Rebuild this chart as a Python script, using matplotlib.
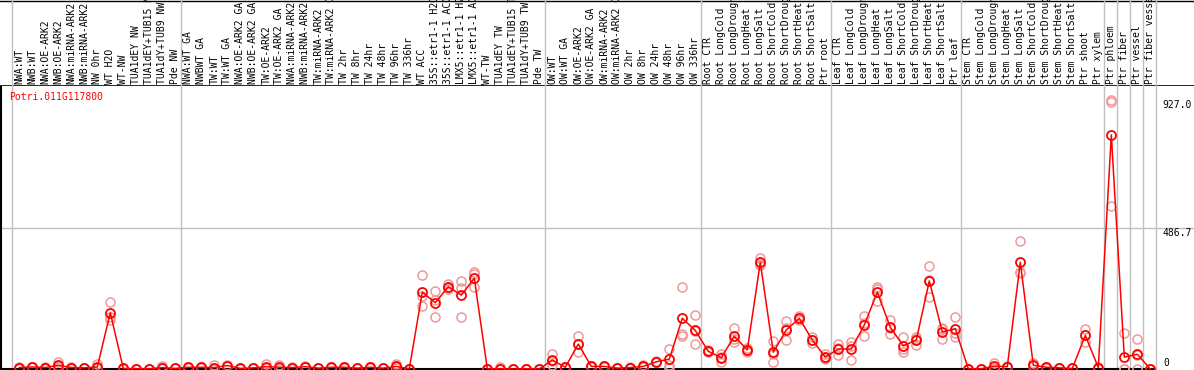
import numpy as np
import matplotlib
matplotlib.use("Agg")
import matplotlib.pyplot as plt

# ------------------ DATOS ------------------

gene_id = "Potri.011G117800"

samples = [
    "NWA:WT", "NWB:WT", "NWA:OE-ARK2", "NWB:OE-ARK2", "NWA:miRNA-ARK2", "NWB:miRNA-ARK2",
    "NW 0hr", "WT H2O", "WT-NW", "TUA1dEY NW", "TUA1dEY+TUB15 NW", "TUA1dY+TUB9 NW", "Pde NW",
    "NWA:WT GA", "NWBWT GA", "TW:WT", "TW:WT GA", "NWA:OE-ARK2 GA", "NWB:OE-ARK2 GA",
    "TW:OE-ARK2", "TW:OE-ARK2 GA", "NWA:miRNA-ARK2 GA", "NWB:miRNA-ARK2 GA", "TW:miRNA-ARK2",
    "TW:miRNA-ARK2 GA", "TW 2hr", "TW 8hr", "TW 24hr", "TW 48hr", "TW 96hr", "TW 336hr",
    "WT ACC", "35S::etr1-1 H2O", "35S::etr1-1 ACC", "LMX5::etr1-1 H2O", "LMX5::etr1-1 ACC",
    "WT-TW", "TUA1dEY TW", "TUA1dEY+TUB15 TW", "TUA1dY+TUB9 TW", "Pde TW",
    "OW:WT", "OW:WT GA", "OW:OE-ARK2", "OW:OE-ARK2 GA", "OW:miRNA-ARK2", "OW:miRNA-ARK2 GA",
    "OW 2hr", "OW 8hr", "OW 24hr", "OW 48hr", "OW 96hr", "OW 336hr",
    "Root CTR", "Root LongCold", "Root LongDrought", "Root LongHeat", "Root LongSalt",
    "Root ShortCold", "Root ShortDrought", "Root ShortHeat", "Root ShortSalt", "Ptr root",
    "Leaf CTR", "Leaf LongCold", "Leaf LongDrought", "Leaf LongHeat", "Leaf LongSalt",
    "Leaf ShortCold", "Leaf ShortDrought", "Leaf ShortHeat", "Leaf ShortSalt", "Ptr leaf",
    "Stem CTR", "Stem LongCold", "Stem LongDrought", "Stem LongHeat", "Stem LongSalt",
    "Stem ShortCold", "Stem ShortDrought", "Stem ShortHeat", "Stem ShortSalt",
    "Ptr shoot", "Ptr xylem", "Ptr phloem", "Ptr fiber", "Ptr vessel", "Ptr fiber vessel",
]

# indice del primer elemento de cada grupo (lineas grises)
group_starts = [0, 13, 41, 53, 63, 73, 84, 85, 86, 87, 88]

means = [
    5, 7, 5, 13, 5, 4, 7, 194, 2, 1, 1, 5, 2,
    6, 6, 5, 12, 2, 4, 8, 6, 5, 8, 3, 6, 6, 3, 6, 3, 9, 1,
    265, 229, 284, 255, 313, 1, 1, 0, 1, 0,
    31, 6, 86, 9, 9, 3, 5, 9, 25, 34, 175, 133,
    61, 39, 113, 66, 368, 58, 135, 175, 100, 41,
    69, 69, 152, 265, 144, 80, 100, 304, 128, 139,
    1, 1, 10, 8, 368, 13, 6, 4, 2, 116, 5, 808, 41, 51, 0,
]

replicates = [
    [5, 4, 6], [7, 6, 8], [5, 4, 6], [23, 10, 6], [5, 4, 6], [4, 3, 5], [17, 2, 2],
    [231, 180, 170], [2, 1, 3], [1, 1, 1], [1, 1, 1], [10, 3, 2], [2, 2, 2],
    [6, 5, 7], [6, 5, 7], [13, 2, 0], [12, 11, 13], [2, 1, 3], [4, 3, 5], [17, 5, 2],
    [15, 2, 1], [5, 4, 6], [8, 7, 9], [3, 2, 4], [6, 5, 7], [6, 5, 7], [3, 2, 4],
    [6, 5, 7], [3, 2, 4], [17, 6, 4], [1, 1, 1],
    [324, 219, 252], [269, 238, 178], [293, 284, 275], [303, 279, 178], [334, 327, 282],
    [1, 1, 1], [8, 0, 0], [0, 0, 0], [1, 1, 1], [0, 0, 0],
    [51, 14, 28], [6, 5, 7], [113, 59, 86], [9, 8, 10], [9, 8, 10], [3, 2, 4],
    [5, 4, 6], [13, 7, 7], [25, 24, 26], [68, 13, 2], [282, 122, 114], [185, 85, 130],
    [61, 58, 64], [51, 25, 41], [140, 94, 105], [74, 60, 64], [382, 360, 362],
    [98, 24, 52], [166, 100, 140], [183, 170, 172], [109, 91, 100], [52, 35, 38],
    [85, 48, 72], [94, 31, 80], [182, 115, 158], [284, 235, 276], [169, 121, 142],
    [112, 58, 70], [112, 83, 104], [356, 250, 306], [143, 102, 138], [181, 112, 124],
    [1, 1, 1], [1, 0, 1], [22, 4, 4], [8, 7, 9], [441, 336, 332], [21, 9, 9],
    [6, 5, 7], [4, 3, 5], [2, 2, 2], [138, 94, 116], [8, 3, 4], [927, 923, 563],
    [123, 0, 0], [104, 0, 49], [0, 0, 0],
]

# ------------------ FIGURA ------------------

W, H = 1194, 370
HEAD = 86
PX0, STEP = 19.3, 13.0          # centro de la primera columna y paso, en pixeles
FONT = "DejaVu Sans Mono"

x = np.arange(len(samples))
xlim = (-PX0 / STEP, (W - PX0) / STEP)

ymax = 973.4
ppu = 141.0 / (ymax / 2)        # pixeles por unidad
ylim = (-1.0 / ppu, ymax + (H - HEAD - 1 - ymax * ppu) / ppu)

fig = plt.figure(figsize=(W / 100, H / 100), dpi=100)
ax_h = fig.add_axes([0, (H - HEAD) / H, 1, HEAD / H])
ax = fig.add_axes([0, 0, 1, (H - HEAD) / H])

for a in (ax_h, ax):
    a.set_xlim(*xlim)
    a.set_xticks([])
    a.set_yticks([])
    for s in a.spines.values():
        s.set_visible(False)

# cabecera con nombres de muestra
ax_h.set_ylim(0, HEAD)
for i, lab in enumerate(samples):
    ax_h.text(i, 2.5, lab, rotation=90, ha="center", va="bottom",
              fontsize=7, family=FONT, clip_on=True)
right_edge = group_starts[-1] - 0.6
ax_h.axhline(HEAD - 0.5, color="black", lw=1)
ax_h.axhline(0.5, color="black", lw=1.2)
for g in group_starts:
    ax_h.axvline(g - 0.6, color="#c0c0c0", lw=1)

# zona de datos
ax.set_ylim(*ylim)
for g in group_starts:
    ax.axvline(g - 0.6, color="#c0c0c0", lw=1)
ax.axhline(ymax / 2, color="#c0c0c0", lw=1)
ax.axvline(xlim[0] + 0.04, color="black", lw=1.5)
ax.plot([xlim[0], right_edge], [0, 0], color="black", lw=1.5, solid_capstyle="butt")

for i, reps in enumerate(replicates):
    ax.plot([i] * len(reps), reps, ls="none", marker="o", ms=6.5, mfc="none",
            mec="#f09898", mew=1.1)
ax.plot(x, means, color="red", lw=1.1, marker="o", ms=6.5, mfc="none",
        mec="red", mew=1.3)

# etiquetas del eje y (a la derecha)
tx = (1162 - PX0) / STEP
top_val = max(max(r) for r in replicates)
ax.text(tx, top_val, f"{top_val:.1f}", fontsize=7, family=FONT, va="top", ha="left")
ax.text(tx, ymax / 2, f"{ymax / 2:.1f}", fontsize=7, family=FONT, va="top", ha="left")
ax.text(tx + 0.1, 3, "0", fontsize=7, family=FONT, va="bottom", ha="left")

ax.text(xlim[0] + 0.7, ylim[1] - 11 / ppu, gene_id, color="red", fontsize=7,
        family=FONT, va="center", ha="left")

fig.savefig("out.png", dpi=100)
